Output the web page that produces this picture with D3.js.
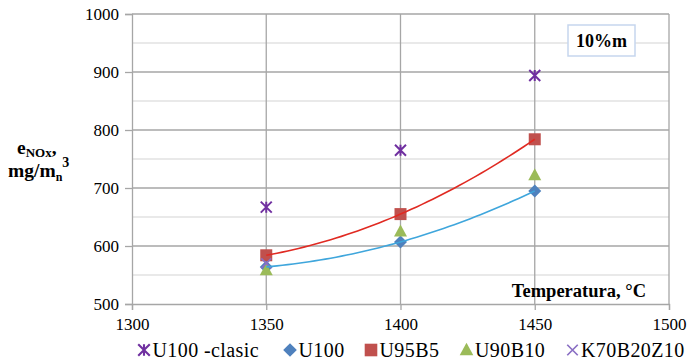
<!DOCTYPE html>
<html>
<head>
<meta charset="utf-8">
<script src="https://cdn.jsdelivr.net/npm/d3@7"></script>
</head>
<body style="margin:0; background:#fff">
<div id="chart"></div>
<script>
// data
const temps = [1350, 1400, 1450];
const u100Clasic = [667, 765, 894];
const u100 = [564, 607, 695];
const u95b5 = [584, 655, 784];
const u90b10 = [558, 625, 722];
const k70b20z10 = [570];
const xTicks = [1300, 1350, 1400, 1450, 1500];
const yTicks = [500, 600, 700, 800, 900, 1000];
const yMinor = [550, 650, 750, 850, 950];

const W = 688, H = 363;
const plot = { left: 132, right: 669, top: 14, bottom: 304 };
const FONT = "Liberation Serif";

const svg = d3.select("#chart").append("svg")
    .attr("width", W)
    .attr("height", H)
    .attr("font-family", FONT);

const x = d3.scaleLinear().domain([1300, 1500]).range([plot.left, plot.right]);
const y = d3.scaleLinear().domain([500, 1000]).range([plot.bottom, plot.top]);

// gridlines
svg.append("g").selectAll("line")
    .data(yMinor).enter().append("line")
    .attr("x1", plot.left).attr("x2", plot.right)
    .attr("y1", d => y(d)).attr("y2", d => y(d))
    .attr("stroke", "#d4d4d4").attr("stroke-width", 1.2);
svg.append("g").selectAll("line")
    .data(yTicks.slice(1)).enter().append("line")
    .attr("x1", plot.left).attr("x2", plot.right)
    .attr("y1", d => y(d)).attr("y2", d => y(d))
    .attr("stroke", "#a6a6a6").attr("stroke-width", 1.3);
svg.append("g").selectAll("line")
    .data(xTicks.slice(1)).enter().append("line")
    .attr("x1", d => x(d)).attr("x2", d => x(d))
    .attr("y1", plot.top).attr("y2", plot.bottom)
    .attr("stroke", "#a6a6a6").attr("stroke-width", 1.3);

// axes
const yAxis = svg.append("g")
    .attr("transform", `translate(${plot.left},0)`)
    .call(d3.axisLeft(y).tickValues(yTicks).tickFormat(d3.format("d")).tickSize(7).tickPadding(6));
const xAxis = svg.append("g")
    .attr("transform", `translate(0,${plot.bottom})`)
    .call(d3.axisBottom(x).tickValues(xTicks).tickFormat(d3.format("d")).tickSize(6).tickPadding(8));
[yAxis, xAxis].forEach(g => {
    g.attr("font-family", FONT).attr("font-size", 17);
    g.select(".domain").attr("stroke", "#a6a6a6").attr("stroke-width", 1.3);
    g.selectAll(".tick line").attr("stroke", "#a6a6a6").attr("stroke-width", 1.3);
    g.selectAll(".tick text").attr("fill", "#000");
});

// quadratic trend through the points
function quadFit(xs, ys) {
    const [x0, x1, x2] = xs, [y0, y1, y2] = ys;
    return t => y0 * (t - x1) * (t - x2) / ((x0 - x1) * (x0 - x2))
        + y1 * (t - x0) * (t - x2) / ((x1 - x0) * (x1 - x2))
        + y2 * (t - x0) * (t - x1) / ((x2 - x0) * (x2 - x1));
}

const star = s => `M${-s},${-s}L${s},${s}M${-s},${s}L${s},${-s}M0,${-s}L0,${s}`;
const cross = s => `M${-s},${-s}L${s},${s}M${-s},${s}L${s},${-s}`;

const series = [
    { name: "U100 -clasic", values: u100Clasic, color: "#7030a0", kind: "star" },
    { name: "U100", values: u100, color: "#4f81bd", kind: "diamond" },
    { name: "U95B5", values: u95b5, color: "#c0504d", kind: "square" },
    { name: "U90B10", values: u90b10, color: "#9bbb59", kind: "triangle" },
    { name: "K70B20Z10", values: k70b20z10, color: "#8a6fc4", kind: "cross" }
];

function drawMarker(g, kind, color) {
    if (kind === "star") {
        g.append("path").attr("d", star(5.5)).attr("stroke", color).attr("stroke-width", 2).attr("fill", "none");
    } else if (kind === "cross") {
        g.append("path").attr("d", cross(5)).attr("stroke", color).attr("stroke-width", 1.6).attr("fill", "none");
    } else if (kind === "diamond") {
        g.append("path").attr("d", "M0,-6.5L6.5,0L0,6.5L-6.5,0Z").attr("fill", color);
    } else if (kind === "square") {
        g.append("rect").attr("x", -6).attr("y", -6).attr("width", 12).attr("height", 12).attr("fill", color);
    } else if (kind === "triangle") {
        g.append("path").attr("d", "M0,-7L6.5,5L-6.5,5Z").attr("fill", color);
    }
}

series.forEach(s => {
    s.values.forEach((v, i) => {
        const g = svg.append("g").attr("transform", `translate(${x(temps[i])},${y(v)})`);
        drawMarker(g, s.kind, s.color);
    });
});

// trend lines
const trends = [
    { values: u95b5, color: "#e02a22" },
    { values: u100, color: "#3fa6dc" }
];
trends.forEach(t => {
    const f = quadFit(temps, t.values);
    const pts = d3.range(temps[0], temps[temps.length - 1] + 0.1, 2);
    svg.append("path")
        .datum(pts)
        .attr("fill", "none")
        .attr("stroke", t.color)
        .attr("stroke-width", 1.6)
        .attr("d", d3.line().x(d => x(d)).y(d => y(f(d))));
});

// axis titles
svg.append("text")
    .attr("x", 646).attr("y", 297)
    .attr("text-anchor", "end")
    .attr("font-size", 18.5).attr("font-weight", "bold")
    .text("Temperatura, °C");

const yl = svg.append("g").attr("font-weight", "bold").attr("font-size", 19.5);
const t1 = yl.append("text").attr("x", 17).attr("y", 154);
t1.append("tspan").text("e");
t1.append("tspan").attr("font-size", 13).attr("dy", 3).text("NOx");
t1.append("tspan").attr("dy", -3).text(",");
const t2 = yl.append("text").attr("x", 8).attr("y", 177);
t2.append("tspan").text("mg/m");
t2.append("tspan").attr("font-size", 12).attr("dy", 4).text("n");
t2.append("tspan").attr("font-size", 14).attr("dy", -14).text("3");

// annotation box
svg.append("rect")
    .attr("x", 568).attr("y", 25).attr("width", 67).attr("height", 31)
    .attr("fill", "#fff").attr("stroke", "#c6d6ee").attr("stroke-width", 1.5);
svg.append("text")
    .attr("x", 601.5).attr("y", 47)
    .attr("text-anchor", "middle")
    .attr("font-size", 18).attr("font-weight", "bold")
    .text("10%m");

// legend
const legendX = [144, 290, 371, 466.5, 572.5];
series.forEach((s, i) => {
    const g = svg.append("g").attr("transform", `translate(${legendX[i]},350)`);
    const m = g.append("g").attr("transform", "scale(1.05)");
    drawMarker(m, s.kind, s.color);
    g.append("text")
        .attr("x", 8.5).attr("y", 6.5)
        .attr("font-size", 20)
        .attr("letter-spacing", 0.4)
        .text(s.name);
});
</script>
</body>
</html>
